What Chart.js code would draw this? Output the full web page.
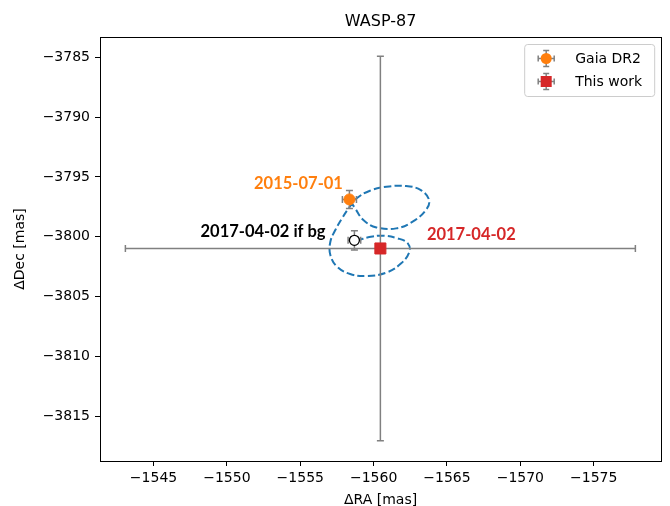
<!DOCTYPE html>
<html>
<head>
<meta charset="utf-8">
<script src="https://cdn.jsdelivr.net/npm/chart.js@4.4.1/dist/chart.umd.min.js"></script>
<style>
  html, body { margin: 0; padding: 0; background: #fff; }
  canvas { display: block; }
</style>
</head>
<body>
<canvas id="chart" width="670" height="506"></canvas>
<script>
// offsets in mas
var gaiaRA = [-1558.35];
var gaiaDec = [-3796.88];
var gaiaRAErr = [0.48];
var gaiaDecErr = [0.75];

var workRA = [-1560.46];
var workDec = [-3800.98];
var workRAErr = [17.38];
var workDecErr = [16.08];

var bgRA = [-1558.69];
var bgDec = [-3800.30];
var bgRAErr = [0.43];
var bgDecErr = [0.80];

// background track 2015-07-01 -> 2017-04-02
var trackRA = [-1558.40, -1558.74, -1559.30, -1560.19, -1561.54, -1562.66, -1563.56, -1563.78,
  -1563.22, -1562.21, -1560.87, -1559.75, -1558.85, -1558.29, -1557.84, -1557.39, -1557.05,
  -1557.05, -1557.50, -1558.40, -1559.52, -1560.87, -1561.88, -1562.44, -1562.33, -1561.65,
  -1560.64, -1559.63, -1558.96, -1558.69];
var trackDec = [-3797.00, -3797.63, -3798.60, -3799.22, -3799.30, -3798.74, -3797.77, -3796.93,
  -3796.10, -3795.76, -3795.82, -3796.15, -3796.79, -3797.63, -3798.47, -3799.44, -3800.42,
  -3801.53, -3802.50, -3803.12, -3803.28, -3803.00, -3802.22, -3801.25, -3800.55, -3800.14,
  -3799.91, -3800.05, -3800.28, -3800.30];

var xTickValues = [-1575, -1570, -1565, -1560, -1555, -1550, -1545];
var yTickValues = [-3815, -3810, -3805, -3800, -3795, -3790, -3785];

var labelText = ["2015-07-01", "2017-04-02 if bg", "2017-04-02"];
var labelRA = [-1551.85, -1548.2, -1563.63];
var labelDec = [-3796.04, -3800.03, -3800.28];
var labelColor = ["#ff7f0e", "#000000", "#d62728"];

var legendNames = ["Gaia DR2", "This work"];

function toPoints(xs, ys) {
  return xs.map(function (v, i) { return { x: v, y: ys[i] }; });
}

function minusSign(v) {
  return String(v).replace("-", "\u2212");
}

var errorColor = "#808080";

function errorBar(ctx, chart, ra, dec, raErr, decErr) {
  var sx = chart.scales.x, sy = chart.scales.y;
  var cx = sx.getPixelForValue(ra), cy = sy.getPixelForValue(dec);
  var x1 = sx.getPixelForValue(ra - raErr), x2 = sx.getPixelForValue(ra + raErr);
  var y1 = sy.getPixelForValue(dec - decErr), y2 = sy.getPixelForValue(dec + decErr);
  var cap = 3.5;
  ctx.beginPath();
  ctx.moveTo(x1, cy); ctx.lineTo(x2, cy);
  ctx.moveTo(cx, y1); ctx.lineTo(cx, y2);
  ctx.moveTo(x1, cy - cap); ctx.lineTo(x1, cy + cap);
  ctx.moveTo(x2, cy - cap); ctx.lineTo(x2, cy + cap);
  ctx.moveTo(cx - cap, y1); ctx.lineTo(cx + cap, y1);
  ctx.moveTo(cx - cap, y2); ctx.lineTo(cx + cap, y2);
  ctx.stroke();
}

var extras = {
  id: "extras",
  afterDatasetDraw: function (chart, args) {
    if (args.index !== 0) return;
    var ctx = chart.ctx;
    ctx.save();
    ctx.strokeStyle = errorColor;
    ctx.lineWidth = 1.5;
    errorBar(ctx, chart, workRA[0], workDec[0], workRAErr[0], workDecErr[0]);
    errorBar(ctx, chart, gaiaRA[0], gaiaDec[0], gaiaRAErr[0], gaiaDecErr[0]);
    errorBar(ctx, chart, bgRA[0], bgDec[0], bgRAErr[0], bgDecErr[0]);
    ctx.restore();
  },
  afterDraw: function (chart) {
    var ctx = chart.ctx;
    var a = chart.chartArea;
    ctx.save();
    // frame
    ctx.strokeStyle = "#000";
    ctx.lineWidth = 1;
    ctx.strokeRect(Math.round(a.left) + 0.5, Math.round(a.top) + 0.5,
      Math.round(a.right - a.left), Math.round(a.bottom - a.top));

    // title
    ctx.fillStyle = "#000";
    ctx.font = '16px "DejaVu Sans"';
    ctx.textAlign = "center";
    ctx.textBaseline = "alphabetic";
    ctx.fillText("WASP-87", (a.left + a.right) / 2, 26);

    // text labels
    ctx.font = 'bold 16.5px Lato';
    ctx.textAlign = "left";
    for (var i = 0; i < labelText.length; i++) {
      ctx.fillStyle = labelColor[i];
      ctx.fillText(labelText[i], chart.scales.x.getPixelForValue(labelRA[i]),
        chart.scales.y.getPixelForValue(labelDec[i]));
    }

    // legend
    var bw = 130, bh = 52;
    var bx = a.right - 7 - bw, by = a.top + 7;
    ctx.beginPath();
    ctx.roundRect(bx + 0.5, by + 0.5, bw, bh, 3);
    ctx.fillStyle = "rgba(255,255,255,0.8)";
    ctx.fill();
    ctx.strokeStyle = "#cccccc";
    ctx.stroke();
    var rows = [by + 14.5, by + 37.5];
    var mx = bx + 22;
    ctx.font = '14px "DejaVu Sans"';
    ctx.textBaseline = "middle";
    for (var j = 0; j < legendNames.length; j++) {
      var my = rows[j];
      ctx.strokeStyle = errorColor;
      ctx.lineWidth = 1.5;
      ctx.beginPath();
      ctx.moveTo(mx - 8, my); ctx.lineTo(mx + 8, my);
      ctx.moveTo(mx, my - 8); ctx.lineTo(mx, my + 8);
      ctx.moveTo(mx - 8, my - 3); ctx.lineTo(mx - 8, my + 3);
      ctx.moveTo(mx + 8, my - 3); ctx.lineTo(mx + 8, my + 3);
      ctx.moveTo(mx - 3, my - 8); ctx.lineTo(mx + 3, my - 8);
      ctx.moveTo(mx - 3, my + 8); ctx.lineTo(mx + 3, my + 8);
      ctx.stroke();
      if (j === 0) {
        ctx.fillStyle = "#ff7f0e";
        ctx.beginPath();
        ctx.arc(mx, my, 5.5, 0, Math.PI * 2);
        ctx.fill();
      } else {
        ctx.fillStyle = "#d62728";
        ctx.fillRect(mx - 5.5, my - 5.5, 11, 11);
      }
      ctx.fillStyle = "#000";
      ctx.fillText(legendNames[j], bx + 51, my + 1);
    }
    ctx.restore();
  }
};

var tickFont = { family: "DejaVu Sans", size: 14 };

new Chart(document.getElementById("chart"), {
  type: "scatter",
  data: {
    datasets: [
      {
        label: "track",
        data: toPoints(trackRA, trackDec),
        showLine: true,
        borderColor: "#1f77b4",
        borderWidth: 2,
        borderDash: [7.4, 3.2],
        tension: 0.4,
        pointRadius: 0,
        fill: false,
        order: 10
      },
      {
        label: "Gaia DR2",
        data: toPoints(gaiaRA, gaiaDec),
        pointStyle: "circle",
        pointRadius: 5.5,
        backgroundColor: "#ff7f0e",
        borderColor: "#ff7f0e",
        borderWidth: 1,
        order: 3
      },
      {
        label: "This work",
        data: toPoints(workRA, workDec),
        pointStyle: "rect",
        pointRadius: 7.8,
        backgroundColor: "#d62728",
        borderColor: "#d62728",
        borderWidth: 1,
        order: 2
      },
      {
        label: "2017-04-02 if bg",
        data: toPoints(bgRA, bgDec),
        pointStyle: "circle",
        pointRadius: 5,
        backgroundColor: "#ffffff",
        borderColor: "#000000",
        borderWidth: 1.3,
        order: 1
      }
    ]
  },
  options: {
    responsive: false,
    devicePixelRatio: 1,
    animation: false,
    events: [],
    layout: { padding: { left: 0, right: 2, top: 37, bottom: 0 } },
    plugins: {
      legend: { display: false },
      title: { display: false },
      tooltip: { enabled: false }
    },
    scales: {
      x: {
        type: "linear",
        reverse: true,
        min: -1579.6,
        max: -1541.35,
        afterBuildTicks: function (scale) {
          scale.ticks = xTickValues.map(function (v) { return { value: v }; });
        },
        afterFit: function (scale) { scale.height = 45; },
        border: { display: false },
        grid: { display: true, drawOnChartArea: false, drawTicks: true, tickLength: 5, tickColor: "#000", tickWidth: 1 },
        ticks: { color: "#000", font: tickFont, padding: 4, maxRotation: 0, callback: minusSign },
        title: { display: true, text: "\u0394RA [mas]", color: "#000", font: tickFont, padding: { top: 0, bottom: -3 } }
      },
      y: {
        type: "linear",
        min: -3818.75,
        max: -3783.3,
        afterBuildTicks: function (scale) {
          scale.ticks = yTickValues.map(function (v) { return { value: v }; });
        },
        afterFit: function (scale) { scale.width = 100; },
        border: { display: false },
        grid: { display: true, drawOnChartArea: false, drawTicks: true, tickLength: 5, tickColor: "#000", tickWidth: 1 },
        ticks: { color: "#000", font: tickFont, padding: 5, callback: minusSign },
        title: { display: true, text: "\u0394Dec [mas]", color: "#000", font: tickFont, padding: { top: 12, bottom: 0 } }
      }
    }
  },
  plugins: [extras]
});
</script>
</body>
</html>
